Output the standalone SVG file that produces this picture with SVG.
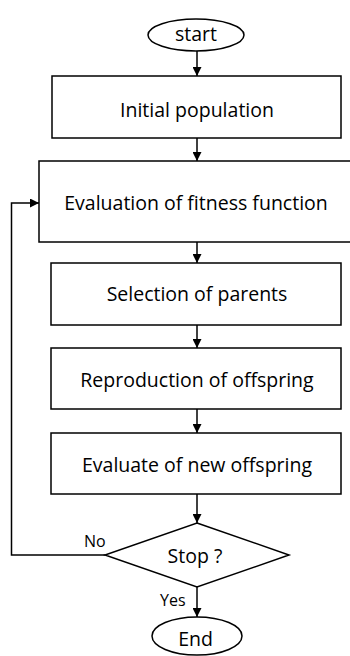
<svg xmlns="http://www.w3.org/2000/svg" width="350" height="656" viewBox="0 0 350 656">
<defs>
<style>
.box{fill:#fff;stroke:#000;stroke-width:1.5}
.ln{fill:none;stroke:#000;stroke-width:1.5}
.t{font-family:"Open Sans","Noto Sans",sans-serif;font-size:19.5px;fill:#000;text-anchor:middle}
.s{font-family:"Open Sans","Noto Sans",sans-serif;font-size:16px;fill:#000}
</style>
<marker id="ah" viewBox="0 0 10 10" refX="10" refY="5" markerWidth="9" markerHeight="9" markerUnits="userSpaceOnUse" orient="auto">
<path d="M0,0 L10,5 L0,10 Z" fill="#000"/>
</marker>
</defs>
<rect width="350" height="656" fill="#fff"/>
<g id="connectors">
<line class="ln" x1="197" y1="51" x2="197" y2="76" marker-end="url(#ah)"/>
<line class="ln" x1="197" y1="138" x2="197" y2="161" marker-end="url(#ah)"/>
<line class="ln" x1="197" y1="242" x2="197" y2="263" marker-end="url(#ah)"/>
<line class="ln" x1="197" y1="325" x2="197" y2="348" marker-end="url(#ah)"/>
<line class="ln" x1="197" y1="409" x2="197" y2="433" marker-end="url(#ah)"/>
<line class="ln" x1="197" y1="494" x2="197" y2="523" marker-end="url(#ah)"/>
<line class="ln" x1="197" y1="587" x2="197" y2="617" marker-end="url(#ah)"/>
<polyline class="ln" points="105,555 11.5,555 11.5,203 39,203" marker-end="url(#ah)"/>
<text class="s" x="84" y="547">No</text>
<text class="s" x="160" y="606">Yes</text>
</g>
<g id="start">
<ellipse class="box" cx="196" cy="35" rx="48" ry="16"/>
<text class="t" x="196" y="40.5">start</text>
</g>
<g id="initial">
<rect class="box" x="52" y="76" width="289" height="62"/>
<text class="t" x="197" y="116.5">Initial population</text>
</g>
<g id="evaluation">
<rect class="box" x="39" y="161" width="320" height="81"/>
<text class="t" x="196" y="209.5">Evaluation of fitness function</text>
</g>
<g id="selection">
<rect class="box" x="51" y="263" width="290" height="62"/>
<text class="t" x="197" y="300.5">Selection of parents</text>
</g>
<g id="reproduction">
<rect class="box" x="51" y="348" width="290" height="61"/>
<text class="t" x="197" y="386.5">Reproduction of offspring</text>
</g>
<g id="evaluate">
<rect class="box" x="51" y="433" width="290" height="61"/>
<text class="t" x="197" y="471.5">Evaluate of new offspring</text>
</g>
<g id="stop">
<polygon class="box" points="197,523 289,555 197,587 105,555"/>
<text class="t" x="195" y="563">Stop ?</text>
</g>
<g id="end">
<ellipse class="box" cx="197" cy="636" rx="45" ry="19"/>
<text class="t" x="195.5" y="645.5">End</text>
</g>
</svg>
